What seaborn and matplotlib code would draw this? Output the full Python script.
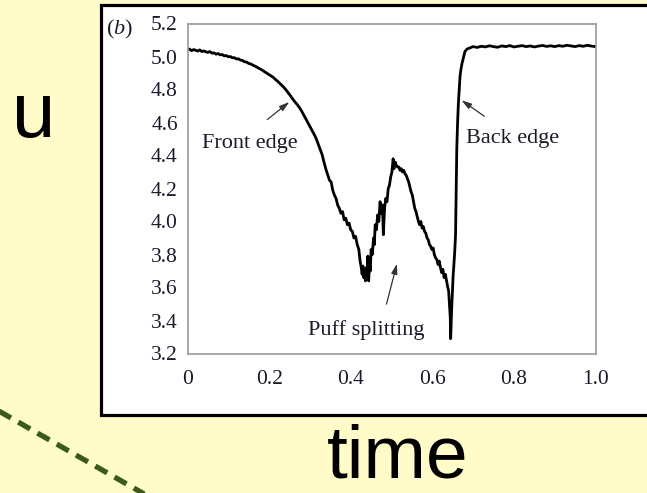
import numpy as np
import pandas as pd
import seaborn as sns
import matplotlib.pyplot as plt
from matplotlib.patches import Rectangle
from matplotlib.lines import Line2D

sns.set_theme(style="white")
plt.rcParams['font.family'] = ['Liberation Serif', 'DejaVu Serif']
plt.rcParams['mathtext.fontset'] = 'custom'
plt.rcParams['mathtext.it'] = 'Liberation Serif:italic'
plt.rcParams['mathtext.rm'] = 'Liberation Serif'

# trace (time, u)
time = [
    0.000, 0.005, 0.010, 0.015, 0.020, 0.025, 0.030, 0.035, 0.040, 0.045,
    0.050, 0.055, 0.060, 0.065, 0.070, 0.075, 0.080, 0.085, 0.090, 0.095,
    0.100, 0.105, 0.110, 0.115, 0.120, 0.125, 0.130, 0.135, 0.140, 0.145,
    0.150, 0.155, 0.160, 0.165, 0.170, 0.175, 0.180, 0.185, 0.190, 0.195,
    0.200, 0.205, 0.210, 0.215, 0.220, 0.225, 0.230, 0.235, 0.240, 0.245,
    0.250, 0.255, 0.260, 0.265, 0.270, 0.275, 0.280, 0.285, 0.290, 0.295,
    0.300, 0.305, 0.310, 0.315, 0.320, 0.325, 0.330, 0.335, 0.340, 0.344,
    0.348, 0.352, 0.356, 0.360, 0.364, 0.368, 0.372, 0.376, 0.380, 0.384,
    0.388, 0.392, 0.396, 0.400, 0.404, 0.408, 0.412, 0.416, 0.420, 0.423,
    0.426, 0.428, 0.430, 0.432, 0.434, 0.436, 0.438, 0.440, 0.442, 0.444,
    0.446, 0.448, 0.450, 0.453, 0.456, 0.458, 0.460, 0.463, 0.466, 0.469,
    0.472, 0.475, 0.478, 0.480, 0.483, 0.486, 0.489, 0.492, 0.495, 0.498,
    0.501, 0.504, 0.506, 0.509, 0.512, 0.515, 0.518, 0.521, 0.524, 0.527,
    0.530, 0.533, 0.536, 0.539, 0.542, 0.545, 0.548, 0.551, 0.554, 0.557,
    0.560, 0.563, 0.566, 0.569, 0.572, 0.575, 0.578, 0.581, 0.584, 0.587,
    0.590, 0.593, 0.596, 0.599, 0.602, 0.605, 0.608, 0.611, 0.614, 0.617,
    0.620, 0.623, 0.626, 0.629, 0.632, 0.635, 0.638, 0.640, 0.642, 0.644,
    0.645, 0.647, 0.649, 0.651, 0.653, 0.655, 0.657, 0.658, 0.659, 0.660,
    0.662, 0.664, 0.666, 0.668, 0.670, 0.673, 0.676, 0.680, 0.685, 0.690,
    0.700, 0.710, 0.720, 0.730, 0.740, 0.750, 0.760, 0.770, 0.780, 0.790,
    0.800, 0.810, 0.820, 0.830, 0.840, 0.850, 0.860, 0.870, 0.880, 0.890,
    0.900, 0.910, 0.920, 0.930, 0.940, 0.950, 0.960, 0.970, 0.980, 0.990,
    1.000,
]
u = [
    5.040, 5.045, 5.035, 5.042, 5.038, 5.033, 5.040, 5.030, 5.034, 5.028,
    5.025, 5.030, 5.020, 5.022, 5.014, 5.018, 5.010, 5.012, 5.004, 5.006,
    4.998, 5.000, 4.992, 4.993, 4.985, 4.986, 4.978, 4.976, 4.968, 4.966,
    4.958, 4.955, 4.948, 4.942, 4.936, 4.928, 4.922, 4.914, 4.906, 4.898,
    4.890, 4.882, 4.874, 4.862, 4.852, 4.840, 4.828, 4.816, 4.802, 4.786,
    4.770, 4.752, 4.735, 4.720, 4.705, 4.688, 4.668, 4.645, 4.622, 4.598,
    4.575, 4.552, 4.530, 4.505, 4.472, 4.440, 4.405, 4.355, 4.310, 4.280,
    4.250, 4.240, 4.190, 4.160, 4.140, 4.100, 4.080, 4.050, 4.060, 4.010,
    4.020, 3.980, 3.990, 3.950, 3.940, 3.900, 3.910, 3.860, 3.830, 3.760,
    3.720, 3.680, 3.730, 3.660, 3.700, 3.640, 3.720, 3.670, 3.790, 3.640,
    3.740, 3.700, 3.830, 3.800, 3.900, 3.860, 3.980, 3.950, 4.040, 4.000,
    4.120, 4.050, 4.100, 3.920, 4.080, 4.140, 4.120, 4.200, 4.220, 4.270,
    4.300, 4.380, 4.320, 4.360, 4.340, 4.330, 4.330, 4.310, 4.320, 4.300,
    4.310, 4.290, 4.280, 4.260, 4.240, 4.210, 4.180, 4.160, 4.120, 4.080,
    4.060, 4.030, 4.000, 3.980, 4.000, 3.960, 3.970, 3.940, 3.930, 3.900,
    3.890, 3.860, 3.850, 3.830, 3.840, 3.800, 3.780, 3.770, 3.740, 3.760,
    3.720, 3.690, 3.710, 3.660, 3.680, 3.640, 3.600, 3.580, 3.500, 3.420,
    3.290, 3.440, 3.550, 3.670, 3.740, 3.820, 3.920, 4.100, 4.300, 4.440,
    4.600, 4.720, 4.800, 4.880, 4.920, 4.960, 4.990, 5.030, 5.045, 5.050,
    5.060, 5.055, 5.062, 5.058, 5.065, 5.060, 5.056, 5.064, 5.060, 5.066,
    5.058, 5.062, 5.066, 5.060, 5.064, 5.058, 5.063, 5.067, 5.061, 5.065,
    5.060, 5.066, 5.062, 5.068, 5.064, 5.060, 5.066, 5.062, 5.068, 5.063,
    5.060,
]
df = pd.DataFrame({"time": time, "u": u})

x_ticks = [0, 0.2, 0.4, 0.6, 0.8, 1.0]
x_ticklabels = ["0", "0.2", "0.4", "0.6", "0.8", "1.0"]
y_ticks = [3.2, 3.4, 3.6, 3.8, 4.0, 4.2, 4.4, 4.6, 4.8, 5.0, 5.2]

W, H = 647, 493
fig = plt.figure(figsize=(W / 100, H / 100), dpi=100, facecolor="#FFFCCA")

# white panel with black frame, kept under the axes
panel = Rectangle((101 / W, 1 - 415 / H), 1.0, (415 - 5) / H,
                  transform=fig.transFigure, facecolor="white",
                  edgecolor="black", lw=2.3, zorder=-5)
fig.add_artist(panel)

# dashed green line bottom left
fig.add_artist(Line2D([-10 / W, 160 / W], [1 - 406 / H, 1 - 503 / H],
                      transform=fig.transFigure, color="#3A5A1C", lw=3.8,
                      dashes=(2.6, 1.6), solid_capstyle="butt", zorder=-4))

ax = fig.add_axes([187.5 / W, 1 - 353.5 / H, 408 / W, (353.5 - 23.5) / H])
ax.set_zorder(2)
ax.set_facecolor("white")
sns.lineplot(data=df, x="time", y="u", ax=ax, color="black", lw=2.0,
             sort=False, estimator=None)

ax.set_xlim(0, 1.0)
ax.set_ylim(3.2, 5.2)
ax.set_xticks(x_ticks)
ax.set_xticklabels(x_ticklabels)
ax.set_xticks([0.1, 0.3, 0.5, 0.7, 0.9], minor=True)
ax.set_yticks(y_ticks)
ax.set_yticklabels([f"{v:.1f}" for v in y_ticks])
ax.set_xlabel("")
ax.set_ylabel("")
for s in ax.spines.values():
    s.set_color("#9a9a9a")
    s.set_linewidth(1.2)
ax.tick_params(axis="both", which="major", direction="out", length=4,
               width=1, color="#9a9a9a", labelsize=15.5, labelcolor="#1a1a2a")
ax.tick_params(axis="x", which="major", pad=8)
ax.tick_params(axis="y", which="major", pad=3)
ax.tick_params(axis="x", which="minor", direction="out", length=2.5,
               width=1.2, color="#8a8a8a")

ann = dict(arrowstyle="-|>,head_length=0.5,head_width=0.15", color="#333333", lw=0.9)
ax.annotate("Front edge", xy=(0.255, 4.73), xytext=(0.035, 4.475),
            fontsize=16, color="#1a1a2a", va="center", ha="left")
ax.annotate("", xy=(0.255, 4.735), xytext=(0.19, 4.607), arrowprops=ann)
ax.annotate("Back edge", xy=(0.668, 4.745), xytext=(0.683, 4.505),
            fontsize=16, color="#1a1a2a", va="center", ha="left")
ax.annotate("", xy=(0.666, 4.745), xytext=(0.733, 4.628), arrowprops=ann)
ax.annotate("Puff splitting", xy=(0.515, 3.76), xytext=(0.4375, 3.34),
            fontsize=16, color="#1a1a2a", va="center", ha="center")
ax.annotate("", xy=(0.515, 3.76), xytext=(0.486, 3.483), arrowprops=ann)

fig.text(106 / W, 1 - 29 / H, r"($\it{b}$)", fontsize=16, color="#1a1a2a",
         va="center", ha="left")

fig.text(33.5 / W, 1 - 137 / H, "u", fontsize=56, family="Liberation Sans",
         ha="center", va="baseline", color="black")
fig.text(397.5 / W, 1 - 477 / H, "time", fontsize=54, family="Liberation Sans",
         ha="center", va="baseline", color="black")

fig.savefig("out.png", dpi=100, facecolor=fig.get_facecolor())
